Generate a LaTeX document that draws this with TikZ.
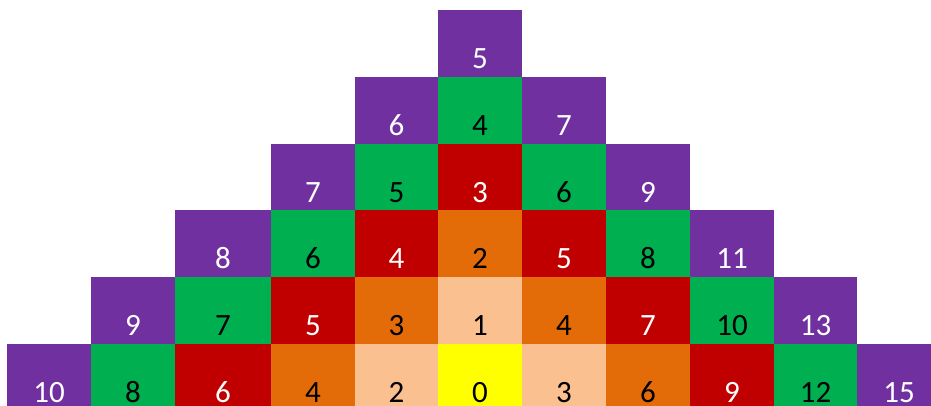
\documentclass[tikz,border=0pt]{standalone}
\usepackage{fontspec}
\setmainfont{Carlito}
\definecolor{pur}{HTML}{7030A0}
\definecolor{grn}{HTML}{00B050}
\definecolor{rd}{HTML}{C00000}
\definecolor{org}{HTML}{E36C09}
\definecolor{pch}{HTML}{FAC090}
\definecolor{yel}{HTML}{FFFF00}
\begin{document}
\begin{tikzpicture}[x=1pt,y=-1pt,
  num/.style={anchor=base,inner sep=0pt,font=\fontsize{31}{31}\selectfont}]
\useasboundingbox (0,0) rectangle (931,405);
\foreach \xa/\xb/\r/\fc/\tc/\n [count=\i] in {
  438/522/0/pur/white/5,
  355/438/1/pur/white/6, 438/522/1/grn/black/4, 522/606/1/pur/white/7,
  271/355/2/pur/white/7, 355/438/2/grn/black/5, 438/522/2/rd/white/3, 522/606/2/grn/black/6, 606/690/2/pur/white/9,
  175/271/3/pur/white/8, 271/355/3/grn/black/6, 355/438/3/rd/white/4, 438/522/3/org/black/2, 522/606/3/rd/white/5, 606/690/3/grn/black/8, 690/774/3/pur/white/11,
  91/175/4/pur/white/9, 175/271/4/grn/black/7, 271/355/4/rd/white/5, 355/438/4/org/black/3, 438/522/4/pch/black/1, 522/606/4/org/black/4, 606/690/4/rd/white/7, 690/774/4/grn/black/10, 774/857/4/pur/white/13,
  7/91/5/pur/white/10, 91/175/5/grn/black/8, 175/271/5/rd/white/6, 271/355/5/org/black/4, 355/438/5/pch/black/2, 438/522/5/yel/black/0, 522/606/5/pch/black/3, 606/690/5/org/black/6, 690/774/5/rd/white/9, 774/857/5/grn/black/12, 857/941/5/pur/white/15}
{
  \pgfmathsetmacro\ya{10+66.8*\r}
  \pgfmathsetmacro\yb{\ya+67}
  \fill[\fc] (\xa,\ya) rectangle (\xb+0.4,\yb);
  \node[num,text=\tc] (n\i) at ({(\xa+\xb)/2},{\yb-8.5}) {\n};
}
\end{tikzpicture}
\end{document}
